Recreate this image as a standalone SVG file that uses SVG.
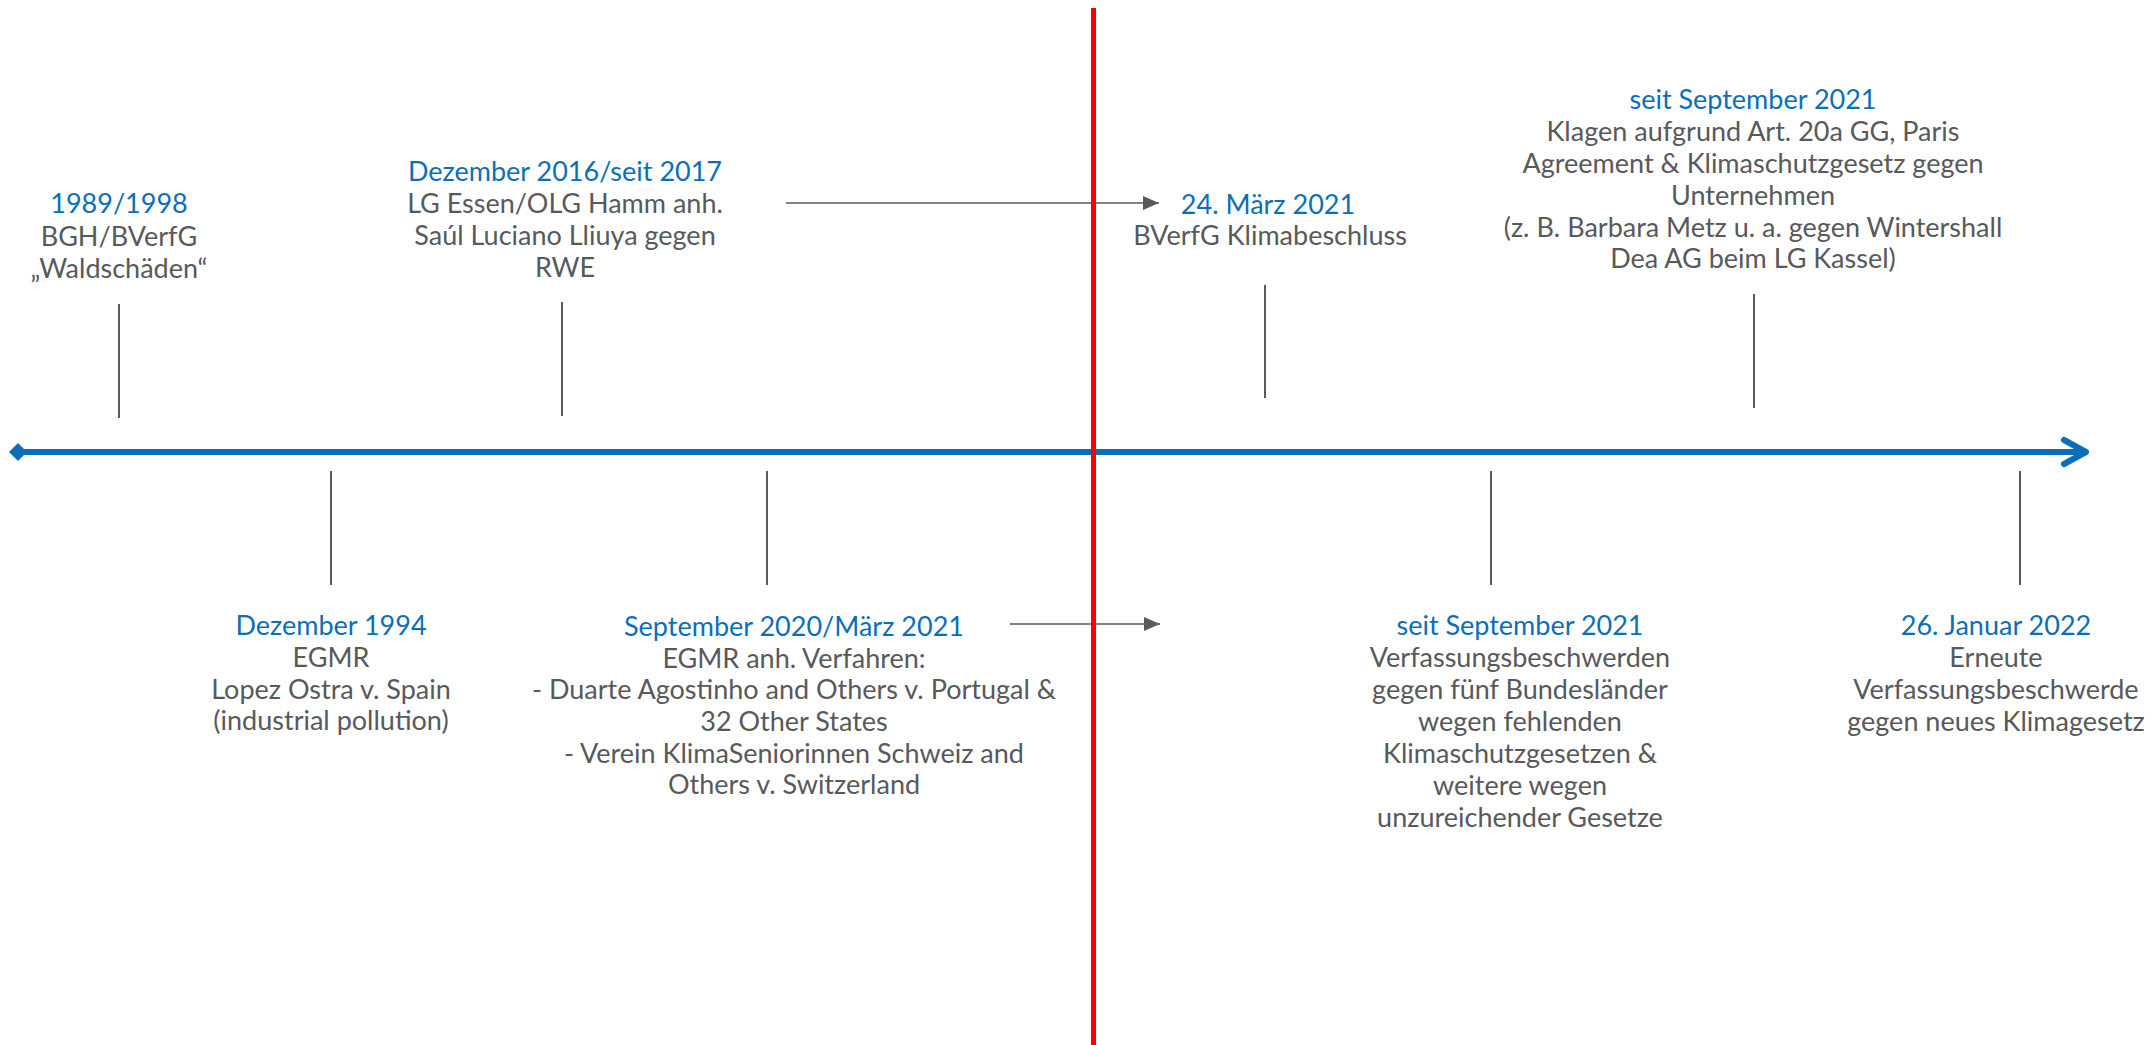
<svg xmlns="http://www.w3.org/2000/svg" width="2152" height="1045" viewBox="0 0 2152 1045">
<style>
text{font-family:Lato,"Open Sans","Liberation Sans",sans-serif;font-size:27px;text-anchor:middle}
.d{fill:#0a6fb8}
.t{fill:#58595b}
.tick{stroke:#58595b;stroke-width:2;fill:none}
.conn{stroke:#58595b;stroke-width:1.6;fill:none}
</style>
<defs>
<marker id="ah" markerUnits="userSpaceOnUse" markerWidth="18" markerHeight="14" refX="16" refY="7" orient="auto">
<path d="M0,0 L16,7 L0,14 Z" fill="#58595b"/>
</marker>
</defs>
<rect width="2152" height="1045" fill="#fff"/>
<g id="timeline">
<line x1="20" y1="452" x2="2084" y2="452" stroke="#0a6fb8" stroke-width="6"/>
<polygon points="9,452 18,443 27,452 18,461" fill="#0a6fb8"/>
<polyline points="2064,440 2086,452 2064,464" fill="none" stroke="#0a6fb8" stroke-width="6" stroke-linecap="round" stroke-linejoin="round"/>
</g>
<g id="n1989">
<line class="tick" x1="119" y1="304" x2="119" y2="418"/>
<text x="119" y="213" class="d">1989/1998</text>
<text x="119" y="246" class="t">BGH/BVerfG</text>
<text x="119" y="278" class="t">„Waldschäden“</text>
</g>
<g id="n2016">
<line class="tick" x1="562" y1="302" x2="562" y2="416"/>
<text x="565" y="181" class="d">Dezember 2016/seit 2017</text>
<text x="565" y="213" class="t">LG Essen/OLG Hamm anh.</text>
<text x="565" y="245" class="t">Saúl Luciano Lliuya gegen</text>
<text x="565" y="277" class="t">RWE</text>
</g>
<g id="n2021maerz">
<line class="tick" x1="1265" y1="285" x2="1265" y2="398"/>
<text x="1268" y="214" class="d">24. März 2021</text>
<text x="1270" y="245" class="t">BVerfG Klimabeschluss</text>
</g>
<g id="n2021top">
<line class="tick" x1="1754" y1="294" x2="1754" y2="408"/>
<text x="1753" y="109" class="d">seit September 2021</text>
<text x="1753" y="141" class="t">Klagen aufgrund Art. 20a GG, Paris</text>
<text x="1753" y="173" class="t">Agreement &amp; Klimaschutzgesetz gegen</text>
<text x="1753" y="205" class="t">Unternehmen</text>
<text x="1753" y="237" class="t">(z. B. Barbara Metz u. a. gegen Wintershall</text>
<text x="1753" y="268" class="t">Dea AG beim LG Kassel)</text>
</g>
<g id="n1994">
<line class="tick" x1="331" y1="471" x2="331" y2="585"/>
<text x="331" y="635" class="d">Dezember 1994</text>
<text x="331" y="667" class="t">EGMR</text>
<text x="331" y="699" class="t">Lopez Ostra v. Spain</text>
<text x="331" y="730" class="t">(industrial pollution)</text>
</g>
<g id="n2020">
<line class="tick" x1="767" y1="471" x2="767" y2="585"/>
<text x="794" y="636" class="d">September 2020/März 2021</text>
<text x="794" y="668" class="t">EGMR anh. Verfahren:</text>
<text x="794" y="699" class="t">- Duarte Agostinho and Others v. Portugal &amp;</text>
<text x="794" y="731" class="t">32 Other States</text>
<text x="794" y="763" class="t">- Verein KlimaSeniorinnen Schweiz and</text>
<text x="794" y="794" class="t">Others v. Switzerland</text>
</g>
<g id="n2021bottom">
<line class="tick" x1="1491" y1="471" x2="1491" y2="585"/>
<text x="1520" y="635" class="d">seit September 2021</text>
<text x="1520" y="667" class="t">Verfassungsbeschwerden</text>
<text x="1520" y="699" class="t">gegen fünf Bundesländer</text>
<text x="1520" y="731" class="t">wegen fehlenden</text>
<text x="1520" y="763" class="t">Klimaschutzgesetzen &amp;</text>
<text x="1520" y="795" class="t">weitere wegen</text>
<text x="1520" y="827" class="t">unzureichender Gesetze</text>
</g>
<g id="n2022">
<line class="tick" x1="2020" y1="471" x2="2020" y2="585"/>
<text x="1996" y="635" class="d">26. Januar 2022</text>
<text x="1996" y="667" class="t">Erneute</text>
<text x="1996" y="699" class="t">Verfassungsbeschwerde</text>
<text x="1996" y="731" class="t">gegen neues Klimagesetz</text>
</g>
<g id="connectors">
<line class="conn" x1="786" y1="203" x2="1159" y2="203" marker-end="url(#ah)"/>
<line class="conn" x1="1010" y1="624" x2="1160" y2="624" marker-end="url(#ah)"/>
</g>
<g id="today">
<line x1="1093.5" y1="8" x2="1093.5" y2="1045" stroke="#ff0000" stroke-width="5"/>
</g>
</svg>
